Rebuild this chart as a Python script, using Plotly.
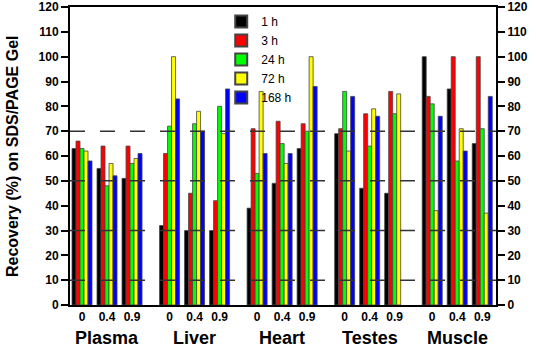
import plotly.graph_objects as go

tissues = ["Plasma", "Liver", "Heart", "Testes", "Muscle"]
doses = ["0", "0.4", "0.9"]
series_names = ["1 h", "3 h", "24 h", "72 h", "168 h"]
colors = ["#000000", "#ff0000", "#00ff00", "#ffff00", "#0000ff"]

# values ordered tissue-major, dose-minor (15 groups)
v_1h = [63, 55, 51, 32, 30, 30, 39, 49, 63, 69, 47, 45, 100, 87, 65]
v_3h = [66, 64, 64, 61, 45, 42, 71, 74, 73, 71, 77, 86, 84, 100, 100]
v_24h = [63, 48, 57, 72, 73, 80, 53, 65, 70, 86, 64, 77, 81, 58, 71]
v_72h = [62, 57, 59, 100, 78, 69, 86, 57, 100, 62, 79, 85, 38, 71, 37]
v_168h = [58, 52, 61, 83, 70, 87, 61, 61, 88, 84, 76, None, 76, 62, 84]
series_values = [v_1h, v_3h, v_24h, v_72h, v_168h]

y_ticks = list(range(0, 121, 10))
dash_levels = [10, 30, 50, 70]

tissue_pitch = 3.5
xpos = [t * tissue_pitch + d for t in range(len(tissues)) for d in range(len(doses))]
dose_labels = [doses[d] for t in range(len(tissues)) for d in range(len(doses))]
tissue_centers = [t * tissue_pitch + 1 for t in range(len(tissues))]

font_family = "Arial, 'Liberation Sans', sans-serif"

fig = go.Figure()
for name, col, vals in zip(series_names, colors, series_values):
    fig.add_trace(go.Bar(
        x=xpos, y=vals, name=name,
        marker=dict(color=col, line=dict(color="#444444", width=0.8)),
    ))
fig.add_trace(go.Scatter(x=[None], y=[None], yaxis="y2", showlegend=False, hoverinfo="skip"))

for lvl in dash_levels:
    fig.add_shape(type="line", xref="paper", x0=0, x1=1, yref="y", y0=lvl, y1=lvl,
                  line=dict(color="#333333", width=1.5, dash="longdash"), layer="above")

for name, cx in zip(tissues, tissue_centers):
    fig.add_annotation(x=cx, y=-0.11, xref="x", yref="paper", text="<b>%s</b>" % name,
                       showarrow=False, font=dict(size=18, color="black", family=font_family),
                       yanchor="middle")

fig.add_annotation(x=-0.136, y=0.5, xref="paper", yref="paper", textangle=-90,
                   text="<b>Recovery (%) on SDS/PAGE Gel</b>", showarrow=False,
                   font=dict(size=16, color="black", family=font_family),
                   xanchor="center", yanchor="middle")

axis_common = dict(range=[0, 120], tickvals=y_ticks, ticks="outside", ticklen=7, tickwidth=2,
                   tickcolor="black", showline=True, linewidth=2, linecolor="black",
                   showgrid=False, zeroline=False, automargin=False,
                   tickfont=dict(size=12, color="black", family=font_family, weight="bold"))

fig.update_layout(
    width=536, height=348,
    margin=dict(l=70, r=40, t=7, b=43),
    plot_bgcolor="white", paper_bgcolor="white",
    barmode="group", bargap=0.2, bargroupgap=0,
    font=dict(family=font_family, color="black"),
    xaxis=dict(range=[-0.48, 16.55], tickvals=xpos, ticktext=dose_labels, ticks="",
               showline=True, linewidth=2, linecolor="black", mirror=True,
               showgrid=False, zeroline=False, automargin=False,
               tickfont=dict(size=12, color="black", family=font_family, weight="bold")),
    yaxis=dict(**axis_common),
    yaxis2=dict(**axis_common, overlaying="y", side="right"),
    legend=dict(x=0.355, y=1.0, xanchor="left", yanchor="top", bgcolor="rgba(0,0,0,0)",
                font=dict(size=12, color="black", family=font_family),
                itemsizing="constant", tracegroupgap=0),
    showlegend=True,
)

fig.write_html("out.html", config={"displayModeBar": False},
               post_script="document.body.style.margin='0px';")
